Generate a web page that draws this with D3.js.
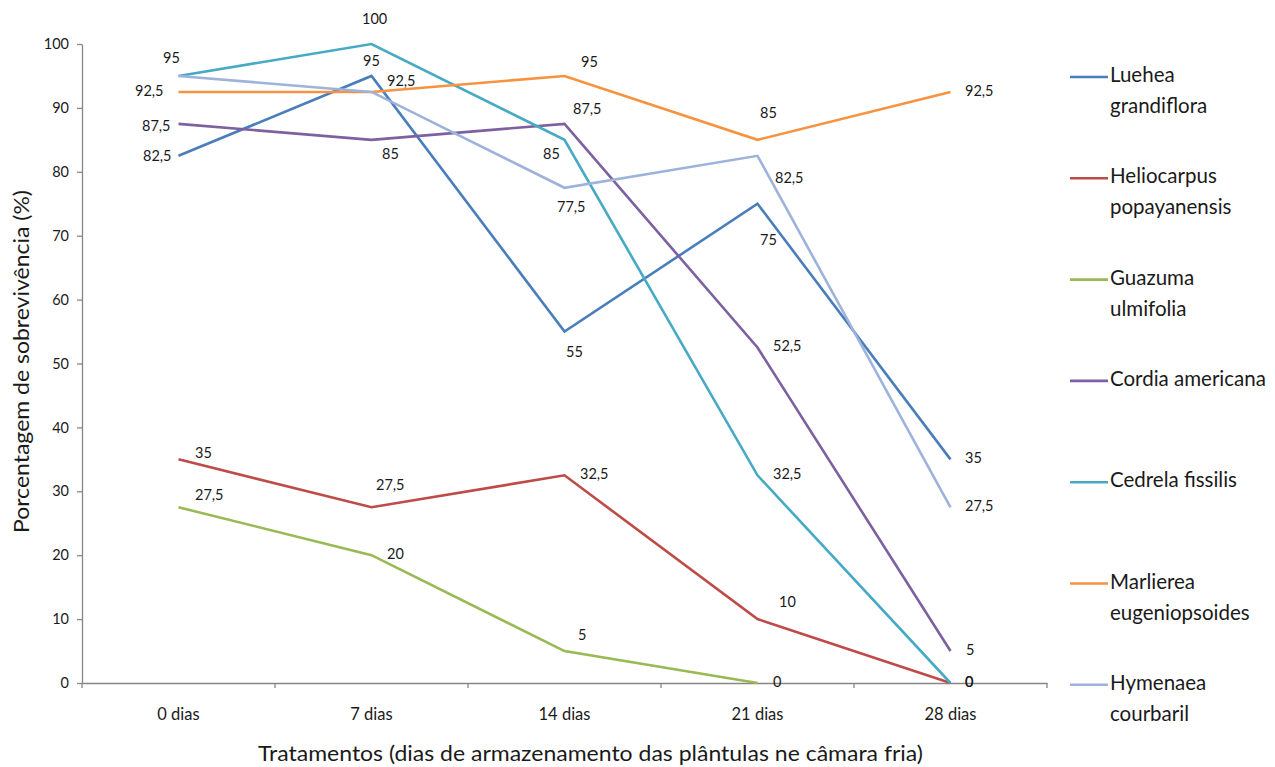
<!DOCTYPE html>
<html>
<head>
<meta charset="utf-8">
<script src="https://cdn.jsdelivr.net/npm/d3@7"></script>
<style>
  html, body { margin: 0; padding: 0; background: #fff; }
  svg { display: block; font-family: Lato, "Open Sans", sans-serif; }
</style>
</head>
<body>
<svg id="chart" width="1275" height="767"></svg>
<script>
// Treatments (days of cold storage)
const categories = ["0 dias", "7 dias", "14 dias", "21 dias", "28 dias"];

// Survival (%) per species
const luehea      = [82.5, 95, 55, 75, 35];
const heliocarpus = [35, 27.5, 32.5, 10, 0];
const guazuma     = [27.5, 20, 5, 0, null];
const cordia      = [87.5, 85, 87.5, 52.5, 5];
const cedrela     = [95, 100, 85, 32.5, 0];
const marlierea   = [92.5, 92.5, 95, 85, 92.5];
const hymenaea    = [95, 92.5, 77.5, 82.5, 27.5];

const seriesNames = [
  ["Luehea", "grandiflora"],
  ["Heliocarpus", "popayanensis"],
  ["Guazuma", "ulmifolia"],
  ["Cordia americana"],
  ["Cedrela fissilis"],
  ["Marlierea", "eugeniopsoides"],
  ["Hymenaea", "courbaril"]
];
const seriesValues = [luehea, heliocarpus, guazuma, cordia, cedrela, marlierea, hymenaea];
const yTicks = [0, 10, 20, 30, 40, 50, 60, 70, 80, 90, 100];

// Styling
const colors = ["#4a7ebb", "#be4b48", "#98b954", "#7d60a0", "#46aac5", "#f69240", "#9db3dc"];

// Data label offsets (px) from each point: [dx to text start, dy to text middle];
// null where the label is hidden behind another series' label
const labelOffsets = [
  [[-35.5, 2], [-8.5, -14], [1.5, 21.5], [2.5, 38], [14.5, 0]],
  [[16.5, -5], [4.5, -21], [15.5, 0], [21.5, -16], [14.5, 0]],
  [[16.5, -11], [15.5, 0], [13.5, -15], [15.5, 0], null],
  [[-36.5, 3], [10.5, 15], [8.5, -14], [15.5, 0], [15.5, 0]],
  [[-15.5, -17], [-9.5, -24], [-21.5, 15], [15.5, 0], [14.5, 0]],
  [[-43.5, 0], [15.5, -10], [16.5, -13], [2.5, -26], [14.5, 0]],
  [null, null, [-7.5, 21], [17.5, 24], [14.5, 0]]
];

const svg = d3.select("#chart");
const plot = { left: 82, right: 1047, top: 44, bottom: 683 };

const x = d3.scaleBand().domain(categories).range([plot.left, plot.right]);
const y = d3.scaleLinear().domain([0, 100]).range([plot.bottom, plot.top]);
const axisColor = "#868686";
const textColor = "#1a1a1a";

// Y axis
const yAxis = svg.append("g")
  .attr("transform", `translate(${plot.left},0)`)
  .call(d3.axisLeft(y).tickValues(yTicks).tickSize(5).tickSizeOuter(0));
yAxis.select(".domain").attr("stroke", axisColor).attr("stroke-width", 1.3);
yAxis.selectAll(".tick line").attr("stroke", axisColor).attr("stroke-width", 1.3);
yAxis.selectAll(".tick text")
  .attr("x", -13)
  .attr("font-size", 14.5)
  .attr("font-family", "Lato, sans-serif")
  .attr("fill", textColor);

// X axis with ticks on band boundaries
const xAxis = svg.append("g")
  .attr("transform", `translate(0,${plot.bottom})`)
  .call(d3.axisBottom(x).tickSize(0).tickSizeOuter(0));
xAxis.select(".domain").attr("stroke", axisColor).attr("stroke-width", 1.3);
xAxis.selectAll(".tick text")
  .attr("y", 25)
  .attr("font-size", 16.5)
  .attr("font-family", "Lato, sans-serif")
  .attr("fill", textColor);
const boundaries = categories.map(c => x(c)).concat([x(categories[categories.length - 1]) + x.bandwidth()]);
xAxis.selectAll("line.bound")
  .data(boundaries)
  .enter().append("line")
  .attr("class", "bound")
  .attr("x1", d => d).attr("x2", d => d)
  .attr("y1", 0).attr("y2", 5)
  .attr("stroke", axisColor).attr("stroke-width", 1.3);

// Axis titles
svg.append("text")
  .attr("x", 590.5).attr("y", 761)
  .attr("text-anchor", "middle")
  .attr("font-size", 21)
  .attr("textLength", 665)
  .attr("lengthAdjust", "spacingAndGlyphs")
  .attr("fill", textColor)
  .text("Tratamentos (dias de armazenamento das plântulas ne câmara fria)");

svg.append("text")
  .attr("transform", "translate(29,361.5) rotate(-90)")
  .attr("text-anchor", "middle")
  .attr("font-size", 21)
  .attr("textLength", 343)
  .attr("lengthAdjust", "spacingAndGlyphs")
  .attr("fill", textColor)
  .text("Porcentagem de sobrevivência (%)");

// Lines
const cx = c => x(c) + x.bandwidth() / 2;
const line = d3.line()
  .defined(d => d.v !== null)
  .x(d => cx(d.c))
  .y(d => y(d.v));

seriesValues.forEach((vals, i) => {
  const pts = vals.map((v, j) => ({ c: categories[j], v }));
  svg.append("path")
    .datum(pts)
    .attr("fill", "none")
    .attr("stroke", colors[i])
    .attr("stroke-width", 2.6)
    .attr("stroke-linejoin", "miter")
    .attr("d", line);
});

// Data labels
seriesValues.forEach((vals, i) => {
  vals.forEach((v, j) => {
    if (v === null || !labelOffsets[i][j]) return;
    const [dx, dy] = labelOffsets[i][j];
    svg.append("text")
      .attr("x", cx(categories[j]) + dx)
      .attr("y", y(v) + dy)
      .attr("dominant-baseline", "middle")
      .attr("font-size", 14.5)
      .attr("fill", textColor)
      .text(String(v).replace(".", ","));
  });
});

// Legend
const legend = svg.append("g");
seriesNames.forEach((name, i) => {
  const ly = 77 + i * 101.3;
  legend.append("line")
    .attr("x1", 1070).attr("x2", 1108)
    .attr("y1", ly).attr("y2", ly)
    .attr("stroke", colors[i]).attr("stroke-width", 2.6);
  name.forEach((part, k) => {
    legend.append("text")
      .attr("x", 1110)
      .attr("y", ly + k * 31)
      .attr("dominant-baseline", "middle")
      .attr("font-size", 20.5)
      .attr("fill", textColor)
      .text(part);
  });
});
</script>
</body>
</html>
